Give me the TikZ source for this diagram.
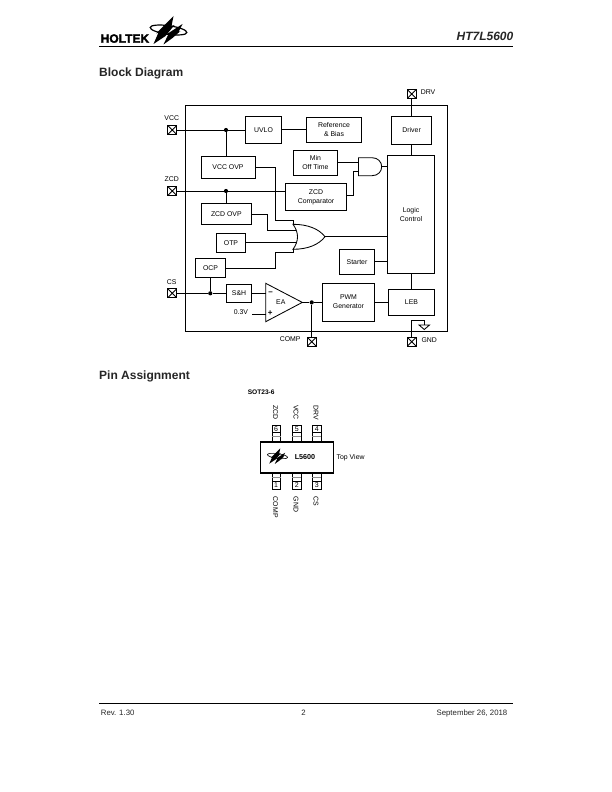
\documentclass[tikz,border=0pt]{standalone}
\usepackage{fontspec}
\setmainfont{Liberation Sans}
\usetikzlibrary{calc}
% page coordinates are in pixels, measured from the top left
\tikzset{
  x=1pt,y=-1pt,
  wire/.style={line width=0.85pt,line cap=butt,line join=miter},
  blk/.style={draw,line width=0.85pt,minimum width=0pt,minimum height=0pt,inner sep=0pt,align=center,font=\fontsize{6.9}{9}\selectfont},
  lab/.style={inner sep=0pt,font=\fontsize{6.9}{8}\selectfont},
  pinbox/.style={draw,line width=1pt,minimum size=8.8pt,inner sep=0pt,
    path picture={\draw[line width=.85pt] (path picture bounding box.north west)--(path picture bounding box.south east)
      (path picture bounding box.north east)--(path picture bounding box.south west);}},
  jn/.style={circle,fill,inner sep=0pt,minimum size=4.2pt},
  pkgpin/.style={draw,line width=0.6pt,fill=white,minimum width=8.4pt,inner sep=0pt},
  heading/.style={inner sep=0pt,anchor=base west,font=\bfseries\fontsize{12}{14}\selectfont,text=black!85},
  foot/.style={inner sep=0pt,font=\fontsize{7.8}{10}\selectfont,text=black!85}
}
\newcommand{\bx}[5]{\node[blk,minimum width=#4pt-#2pt,minimum height=#5pt-#3pt] at ({(#2+#4)/2},{(#3+#5)/2})}
% company mark, centred on the local origin
\newcommand{\holtekmark}[1]{%
  \draw[line width=#1,rotate=-8] (0,0) ellipse (18.5 and 4.3);
  \fill (-15,14) -- (-10,2.5) -- (-12.5,3.5) -- (5,-14) -- (3,-4) -- (6,-5) -- (-3,6) -- cycle;
  \fill (-5,14.5) -- (0,4) -- (-3,5) -- (14,-6) -- (10,2) -- (12,1) -- (4,8) -- cycle;
}
\begin{document}
\begin{tikzpicture}
\useasboundingbox (0,0) rectangle (612,792);
\fill[white] (0,0) rectangle (612,792);

% page header
\node[inner sep=0pt,anchor=base west,font=\bfseries\fontsize{12}{12}\selectfont\addfontfeatures{FakeBold=2.5}] (brand) at (100.5,42.7) {HOLTEK};
\coordinate (logoC) at (168.5,30);
\begin{scope}[shift={(logoC)}]
  \holtekmark{1.2pt}
\end{scope}
\node[inner sep=0pt,anchor=east,font=\bfseries\itshape\fontsize{12}{14}\selectfont,text=black!85] (part) at (513.5,36.7) {HT7L5600};
\coordinate (hdrL) at (99,46.5); \coordinate (hdrR) at (513,46.5);
\draw[line width=.85pt] (hdrL) -- (hdrR);

\node[heading] (h1) at (99,77) {Block Diagram};
\node[heading] (h2) at (99,379.3) {Pin Assignment};

% chip outline
\node[draw,line width=.85pt,minimum width=262pt,minimum height=226pt,inner sep=0pt] (chip) at (316.3,218) {};

% function blocks
\bx{}{245.3}{116}{281.7}{143.3} (uvlo) {UVLO};
\bx{}{306.3}{117.3}{361.7}{142.3} (ref) {Reference\\\& Bias};
\bx{}{391.5}{116}{431.7}{144.3} (drv) {Driver};
\bx{}{293.5}{150}{337.3}{175.7} (min) {Min\\Off Time};
\bx{}{201}{156}{255}{178.3} (vovp) {VCC OVP};
\bx{}{285.3}{183.3}{346.7}{210.7} (zcmp) {ZCD\\Comparator};
\bx{}{201}{203.3}{251.7}{224.3} (zovp) {ZCD OVP};
\bx{}{216.3}{233.3}{245.7}{252.3} (otp) {OTP};
\bx{}{195.3}{258.3}{225.7}{277.3} (ocp) {OCP};
\bx{}{339.3}{249.3}{374.7}{274.3} (start) {Starter};
\bx{}{387.3}{155}{434.7}{273.3} (logic) {Logic\\Control};
\bx{}{226.3}{284.3}{251.7}{302.3} (sh) {S\&H};
\bx{}{322.3}{283.3}{374.7}{321} (pwm) {PWM\\Generator};
\bx{}{388.3}{289.3}{434.7}{315} (leb) {LEB};

% pins
\node[pinbox] (pvcc) at (172.2,130) {};
\node[pinbox] (pzcd) at (172.2,191) {};
\node[pinbox] (pcs)  at (172.2,293.3) {};
\node[pinbox] (pdrv) at (411.7,94) {};
\node[pinbox] (pcomp) at (311.7,341.7) {};
\node[pinbox] (pgnd) at (411.7,341.7) {};
\node[lab] (lvcc) at (171.7,118.3) {VCC};
\node[lab] (lzcd) at (171.7,179) {ZCD};
\node[lab] (lcs) at (171.7,281.7) {CS};
\node[lab,anchor=west] (ldrv) at (420.7,92.3) {DRV};
\node[lab,anchor=east] (lcomp) at (300.7,339.3) {COMP};
\node[lab,anchor=west] (lgnd) at (421.3,340.3) {GND};
\node[lab] (l03) at (241,311.7) {0.3V};

% junctions
\node[jn] (j1) at (226,130) {};
\node[jn] (j2) at (226,191) {};
\node[jn] (j3) at (210.3,293.3) {};
\node[jn] (j4) at (311.7,302.4) {};

% error amplifier
\coordinate (eaT) at (265.7,283.3);
\coordinate (eaB) at (265.7,321.7);
\coordinate (eaO) at (302.3,302.4);
\coordinate (eaM) at (265.7,293.3);
\coordinate (eaP) at (265.7,314.3);
\draw[line width=.85pt,line join=miter] (eaT) -- (eaO) -- (eaB) -- cycle;
\node[lab] (ea) at (280.8,302.5) {EA};
\node[lab,font=\bfseries\fontsize{8}{8}\selectfont] (eam) at (270.7,293.3) {–};
\node[lab,font=\bfseries\fontsize{8}{8}\selectfont] (eap) at (270.3,313.5) {+};
\coordinate (vref) at (252.3,314.3);

% AND gate
\draw[line width=.85pt] (358.5,157.7) -- (372,157.7) .. controls (378,157.7) and (381.7,162) .. (381.7,166.7)
  .. controls (381.7,171.5) and (378,175.7) .. (372,175.7) -- (358.5,175.7) -- cycle;
\coordinate (andA) at (358.5,162.3); \coordinate (andB) at (358.5,171);
\coordinate (andO) at (381.7,166.7);

% OR gate
\draw[line width=.85pt] (293,224.3) .. controls (308,224.3) and (319,229) .. (325,236.7)
  .. controls (319,244.5) and (308,249.3) .. (293,249.3)
  .. controls (299,241) and (299,232.5) .. (293,224.3) -- cycle;
\coordinate (orO) at (325,236.7);
\coordinate (orB) at (295.5,230.7);
\coordinate (orC) at (296.7,242.3);

% connections
\draw[wire] (pvcc) -- (j1) -- (uvlo.west |- j1);
\draw[wire] (j1) -- (vovp.north -| j1);
\draw[wire] (uvlo.east |- ref.west) -- (ref.west);
\draw[wire] (pzcd) -- (j2) -- (j2 -| zcmp.west);
\draw[wire] (j2) -- (zovp.north -| j2);
\draw[wire] (pdrv) -- (drv.north -| pdrv);
\draw[wire] (drv.south -| pdrv) -- (logic.north -| pdrv);
\draw[wire] (min.east |- andA) -- (andA);
\draw[wire] (zcmp.east |- 0,195.7) -- (353.3,195.7) -- (353.3,171) -- (andB);
\draw[wire] (andO) -- (logic.west |- andO);
\draw[wire] (vovp.east |- 0,167.3) -- (275,167.3) -- (275,220) -- (293,220) -- (293,224.3);
\draw[wire] (zovp.east |- 0,214.3) -- (267.5,214.3) -- (267.5,230.7) -- (orB);
\draw[wire] (otp.east |- orC) -- (orC);
\draw[wire] (ocp.east |- 0,268.3) -- (275,268.3) -- (275,252.3) -- (293,252.3) -- (293,249.3);
\draw[wire] (orO) -- (logic.west |- orO);
\draw[wire] (start.east |- 0,261.5) -- (logic.west |- 0,261.5);
\draw[wire] (pcs) -- (j3) -- (sh.west |- j3);
\draw[wire] (j3) -- (ocp.south -| j3);
\draw[wire] (sh.east |- eaM) -- (eaM);
\draw[wire] (vref) -- (eaP);
\draw[wire] (eaO) -- (j4) -- (pwm.west |- j4);
\draw[wire] (j4) -- (pcomp.north -| j4);
\draw[wire] (pwm.east |- 0,302.4) -- (leb.west |- 0,302.4);
\draw[wire] (logic.south -| pdrv) -- (leb.north -| pdrv);
\coordinate (gndT) at (424.3,320.7);
\draw[wire] (pgnd.north) -- (pgnd.north |- gndT) -- (gndT) -- (424.3,325);
\draw[line width=.85pt] (419,325) -- (429.5,325) -- (424.3,329.5) -- cycle;

% package
\node[lab,font=\bfseries\fontsize{6.6}{8}\selectfont] (sot) at (261.2,392.5) {SOT23-6};
\foreach \n/\x/\nm/\sx in {6/276/ZCD/t6,5/296.7/VCC/t5,4/316.7/DRV/t4}{
  \node[pkgpin,minimum height=7.4pt,font=\fontsize{7}{6}\selectfont] (\sx) at (\x,428.7) {\n};
  \node[pkgpin,minimum height=9.7pt] (\sx s) at (\x,437.2) {};
  \draw[line width=.5pt,black!45] (\sx s.west |- 0,436.5) -- (\sx s.east |- 0,436.5);
  \node[lab,rotate=-90,anchor=west] (\sx l) at (\x-0.6,405) {\nm};
}
\foreach \n/\x/\nm/\sx in {1/276/COMP/b1,2/296.7/GND/b2,3/316.7/CS/b3}{
  \node[pkgpin,minimum height=8.7pt] (\sx s) at (\x,477.4) {};
  \draw[line width=.5pt,black!45] (\sx s.west |- 0,477.5) -- (\sx s.east |- 0,477.5);
  \node[pkgpin,minimum height=7.2pt,font=\fontsize{7}{6}\selectfont] (\sx) at (\x,485.3) {\n};
  \node[lab,rotate=-90,anchor=west] (\sx l) at (\x-0.6,496.7) {\nm};
}
\node[draw,line width=1.3pt,fill=white,minimum width=73pt,minimum height=31pt,inner sep=0pt] (pkg) at (296.7,457.5) {};
\node[lab,font=\bfseries\fontsize{7.2}{8}\selectfont] (pn) at (305,457.5) {L5600};
\node[lab,anchor=base west] (tv) at (336.5,459.2) {Top View};
\begin{scope}[shift={(277.5,456)},scale=.55]
  \holtekmark{.6pt}
\end{scope}

% page footer
\coordinate (ftL) at (99,703.5); \coordinate (ftR) at (513,703.5);
\draw[line width=.85pt] (ftL) -- (ftR);
\node[foot,anchor=base west] (rev) at (100.7,715.6) {Rev. 1.30};
\node[foot,anchor=base] (pg) at (303.5,715.6) {2};
\node[foot,anchor=base east] (date) at (507.5,715.6) {September 26, 2018};
\end{tikzpicture}
\end{document}
